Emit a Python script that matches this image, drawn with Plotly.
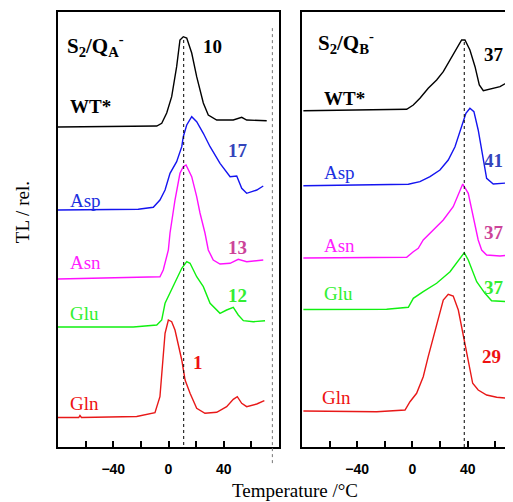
import plotly.graph_objects as go

# ---------------- data (temperature in °C, TL intensity in relative units) ----------------
# Left panel: S2/QA-
T_QA_WT = [-80, -8.5, -4.9, -1.3, 2.3, 5.9, 8.3, 10.7, 13.2, 16.8, 20.4, 22.8, 25.2, 28.8, 34.9, 46.9, 53, 56.6, 71.1]
I_QA_WT = [0, 1, 3.7, 14, 30.3, 60.3, 87, 90.3, 89, 74, 50.3, 37, 24, 12, 7, 7, 9.7, 7, 6.3]

T_QA_ASP = [-80, -21.9, -11, -6.2, -2.5, 1.1, 5.9, 9.6, 10.7, 13.2, 16.8, 20.4, 25.2, 30.1, 37.3, 44.6, 49.4, 53, 56.6, 63.9, 68.6]
I_QA_ASP = [0, 0.7, 2.7, 10, 20, 36.7, 48.3, 63.3, 73.3, 85, 93.3, 88.3, 76.7, 63.3, 46.7, 33.3, 34, 21.7, 16.7, 20, 24]

T_QA_ASN = [-80, -6.2, -3.8, -2.5, -0.1, 1.1, 4.7, 8.3, 10.7, 12.7, 16.8, 20.4, 22.8, 26.4, 28.8, 32.4, 37.3, 44.6, 50.5, 56.6, 68.6]
I_QA_ASN = [0, 2.3, 9, 16, 29, 46, 79, 105.7, 112.3, 114, 102.3, 82.3, 66, 46, 29, 19, 15, 15.7, 19.7, 17.3, 19]

T_QA_GLU = [-80, -25.5, -8.5, -4.9, -2.5, 1.1, 5.9, 9.6, 13.2, 15.6, 20.4, 25.2, 30.1, 37.3, 42.1, 46.9, 50.5, 54.2, 61.4, 69.9]
I_QA_GLU = [0, 0, 2, 7, 23.7, 33.7, 47, 58.7, 65.3, 63.7, 50.3, 40.3, 23.7, 13.7, 17, 19.7, 12, 6.3, 5.3, 6.3]

T_QA_GLN = [-80, -65, -64.1, -63, -23, -15.8, -9.8, -6.2, -3.8, -2.5, -0.1, 2.3, 4.7, 7.1, 9.6, 12, 15.6, 20.4, 26.4, 34.9, 42.1, 46.9, 49.8, 53, 56.6, 63.9, 69.4]
I_QA_GLN = [0, 0, 2, 0, 1, 3.2, 4.8, 20.8, 57.5, 84.2, 97.5, 95.8, 87.5, 74.2, 57.5, 37.5, 24.2, 9.2, 4.2, 5.2, 10.8, 18.2, 20.8, 14.2, 10.8, 13.5, 16.8]

# Right panel: S2/QB-
T_QB_WT = [-79, -13.9, -4.2, 0.6, 5.4, 11.4, 17.5, 22.3, 27.2, 32, 35.6, 38, 41.6, 45.3, 48.4, 51.3, 56.1, 63.4, 70.6]
I_QB_WT = [0, 0.7, 1.4, 5.7, 12.4, 22.4, 30.7, 39, 50.7, 62.4, 70.7, 70.7, 60.7, 44, 25.7, 20, 21.4, 24, 30]

T_QB_ASP = [-79, -3, 5.4, 12.7, 19.9, 25.9, 30.8, 34.4, 36.8, 38.7, 41.6, 44.5, 47.6, 50.8, 53.7, 58.5, 70.6]
I_QB_ASP = [0, 1.4, 4, 9, 15.7, 25.7, 39, 54, 64, 72.4, 77.4, 74, 55.7, 29, 7.4, 1.7, 3]

T_QB_ASN = [-79, -4.2, 0.6, 4.2, 7.8, 15.1, 22.3, 29.5, 36.4, 40.4, 44, 47.6, 50.1, 53.7, 63.4, 71.8]
I_QB_ASN = [0, 0.7, 6.3, 9.7, 18, 28, 38, 51.3, 74, 64.7, 41.3, 18, 8, 3, 2, 3]

T_QB_GLU = [-79, -18.7, -3, 0.6, 7.8, 17.5, 27.2, 34.4, 37.5, 40.4, 46.5, 52.5, 57.3, 70.6]
I_QB_GLU = [0, 0.2, 2.2, 11.2, 17.8, 26.2, 37.8, 51.2, 56.8, 49.5, 27.8, 16.2, 8.8, 7.8]

T_QB_GLN = [-79, -25.9, -5.4, -1.8, 3, 7.8, 11.4, 15.1, 18.7, 22.3, 25.9, 29.5, 33.2, 35.6, 38, 40.4, 43.6, 47.6, 53.7, 61, 69.4]
I_QB_GLN = [0, -0.7, 1, 9.3, 17.7, 34.3, 54.3, 74.3, 94.3, 111, 116.7, 115, 101, 84.3, 67.7, 47.7, 27.7, 21, 16, 13.7, 12.7]

# vertical offsets of the stacked traces (relative units)
OFFSETS_QA = [320, 237, 168, 120, 29.5]
OFFSETS_QB = [336.3, 261.3, 189, 137.5, 36]

NAMES = ["WT*", "Asp", "Asn", "Glu", "Gln"]
PEAKS_QA = ["10", "17", "13", "12", "1"]
PEAKS_QB = ["37", "41", "37", "37", "29"]
PEAK_LINE_QA = 11
PEAK_LINE_QB = 37.5
END_LINE_QA = 75.2

TICK_VALS = [-60, -40, -20, 0, 20, 40, 60]
TICK_TEXT = ["", "\u221240", "", "0", "", "40", ""]

# ---------------- styles ----------------
LINE_COLORS = ["#000000", "#1414F0", "#FF10FF", "#10F010", "#E81818"]
PEAK_COLORS = ["#000000", "#3344BB", "#CC4499", "#33EE33", "#EE1111"]
NAME_COLORS = ["#000000", "#2030E0", "#FF20FF", "#30F030", "#EE1111"]

XR_L = [-80, 80]
XR_R = [-80, 72.8]
YR = [0, 435]

fig = go.Figure()

qa = [(T_QA_WT, I_QA_WT), (T_QA_ASP, I_QA_ASP), (T_QA_ASN, I_QA_ASN), (T_QA_GLU, I_QA_GLU), (T_QA_GLN, I_QA_GLN)]
qb = [(T_QB_WT, I_QB_WT), (T_QB_ASP, I_QB_ASP), (T_QB_ASN, I_QB_ASN), (T_QB_GLU, I_QB_GLU), (T_QB_GLN, I_QB_GLN)]

for i, (t, v) in enumerate(qa):
    fig.add_trace(go.Scatter(x=t, y=[a + OFFSETS_QA[i] for a in v], mode="lines",
                             line=dict(color=LINE_COLORS[i], width=1.4), xaxis="x", yaxis="y",
                             hoverinfo="skip"))
for i, (t, v) in enumerate(qb):
    fig.add_trace(go.Scatter(x=t, y=[a + OFFSETS_QB[i] for a in v], mode="lines",
                             line=dict(color=LINE_COLORS[i], width=1.4), xaxis="x2", yaxis="y2",
                             hoverinfo="skip"))

SERIF = "Liberation Serif, Times New Roman, serif"
ann = []
# panel titles
ann.append(dict(x=-75, y=402, xref="x", yref="y", text="<b>S<sub>2</sub>/Q<sub>A</sub><sup>-</sup></b>",
                showarrow=False, xanchor="left", yanchor="middle", font=dict(family=SERIF, size=21, color="black")))
ann.append(dict(x=-70, y=405, xref="x2", yref="y2", text="<b>S<sub>2</sub>/Q<sub>B</sub><sup>-</sup></b>",
                showarrow=False, xanchor="left", yanchor="middle", font=dict(family=SERIF, size=21, color="black")))

NAME_Y_QA = [341, 247, 185, 134, 44]
NAME_Y_QB = [349, 275, 202, 154, 50]
PEAK_POS_QA = [(32.2, 401), (50.3, 297), (49.6, 200), (50.3, 152), (21.4, 85)]
PEAK_POS_QB = [(58.8, 393), (58.8, 287), (58.8, 215), (58.8, 160), (57.2, 91)]

for i in range(5):
    wt = (i == 0)
    ann.append(dict(x=-73, y=NAME_Y_QA[i], xref="x", yref="y", text=("<b>%s</b>" % NAMES[i]) if wt else NAMES[i],
                    showarrow=False, xanchor="left", yanchor="middle",
                    font=dict(family=SERIF, size=19, color=NAME_COLORS[i])))
    ann.append(dict(x=-65.5 if i < 4 else -67, y=NAME_Y_QB[i], xref="x2", yref="y2",
                    text=("<b>%s</b>" % NAMES[i]) if wt else NAMES[i],
                    showarrow=False, xanchor="left", yanchor="middle",
                    font=dict(family=SERIF, size=19, color=NAME_COLORS[i])))
    ann.append(dict(x=PEAK_POS_QA[i][0], y=PEAK_POS_QA[i][1], xref="x", yref="y", text="<b>%s</b>" % PEAKS_QA[i],
                    showarrow=False, xanchor="center", yanchor="middle",
                    font=dict(family=SERIF, size=19, color=PEAK_COLORS[i])))
    ann.append(dict(x=PEAK_POS_QB[i][0], y=PEAK_POS_QB[i][1], xref="x2", yref="y2", text="<b>%s</b>" % PEAKS_QB[i],
                    showarrow=False, xanchor="center", yanchor="middle",
                    font=dict(family=SERIF, size=19, color=PEAK_COLORS[i])))

# axis titles (paper coords are relative to the plot area: 455 x 435 px)
ann.append(dict(x=0.521, y=-0.099, xref="paper", yref="paper", text="Temperature /\u00b0C",
                showarrow=False, xanchor="center", yanchor="middle", font=dict(family=SERIF, size=19, color="black")))
ann.append(dict(x=-0.079, y=0.54, xref="paper", yref="paper", text="TL / rel.", textangle=-90,
                showarrow=False, xanchor="center", yanchor="middle", font=dict(family=SERIF, size=19, color="black")))

DOM_L = [0, 221 / 455]
DOM_R = [244 / 455, 1]

def paper_x(t, dom, xr):
    return dom[0] + (dom[1] - dom[0]) * (t - xr[0]) / (xr[1] - xr[0])

shapes = [
    dict(type="line", xref="x", yref="y", x0=PEAK_LINE_QA, x1=PEAK_LINE_QA, y0=2, y1=410,
         line=dict(color="black", width=1, dash="dot")),
    dict(type="line", xref="x2", yref="y2", x0=PEAK_LINE_QB, x1=PEAK_LINE_QB, y0=0, y1=407,
         line=dict(color="black", width=1, dash="dot")),
    dict(type="line", xref="paper", yref="paper",
         x0=paper_x(END_LINE_QA, DOM_L, XR_L), x1=paper_x(END_LINE_QA, DOM_L, XR_L),
         y0=-0.037, y1=0.965, line=dict(color="#777777", width=1, dash="dot")),
]

axis_common = dict(tickmode="array", tickvals=TICK_VALS, ticktext=TICK_TEXT, ticks="inside", ticklen=6,
                   tickwidth=1.5, tickcolor="black", showgrid=False, zeroline=False, showline=True,
                   linecolor="black", linewidth=1.6, mirror=True, automargin=False,
                   tickfont=dict(family="Liberation Sans, Arial, sans-serif", size=14, color="black", weight="bold"),
                   ticklabelstandoff=8)

# the page body has an 8px margin, so the figure is placed 8px in from the window corner
fig.update_layout(
    width=505, height=494,
    margin=dict(l=50, r=0, t=4, b=55),
    paper_bgcolor="white", plot_bgcolor="white",
    showlegend=False,
    xaxis=dict(domain=DOM_L, range=XR_L, anchor="y", **axis_common),
    xaxis2=dict(domain=DOM_R, range=XR_R, anchor="y2", **axis_common),
    yaxis=dict(range=YR, showticklabels=False, ticks="", showgrid=False, zeroline=False, automargin=False,
               showline=True, linecolor="black", linewidth=1.6, mirror=True, anchor="x"),
    yaxis2=dict(range=YR, showticklabels=False, ticks="", showgrid=False, zeroline=False, automargin=False,
                showline=True, linecolor="black", linewidth=1.6, mirror=False, anchor="x2"),
    annotations=ann,
    shapes=shapes,
)

fig.write_html("out.html")
